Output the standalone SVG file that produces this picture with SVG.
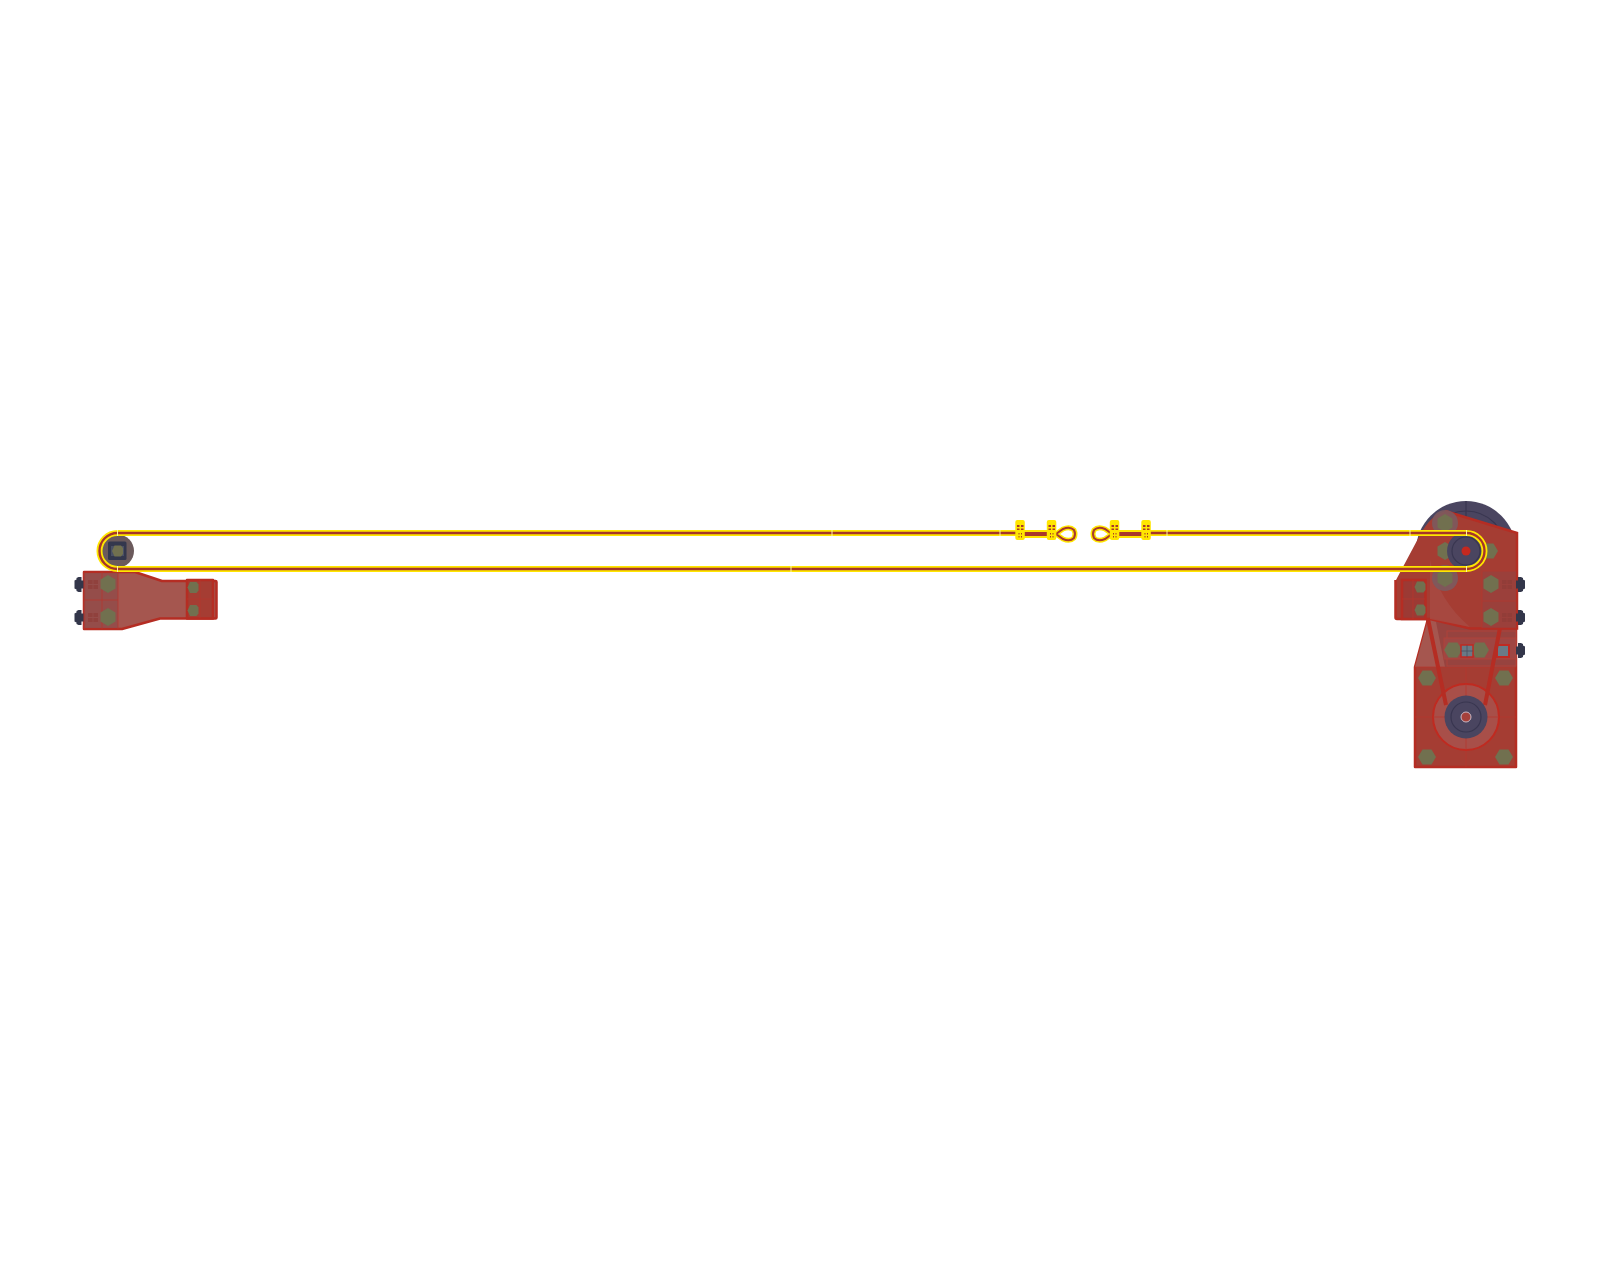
<svg xmlns="http://www.w3.org/2000/svg" width="1600" height="1269" viewBox="0 0 1600 1269">
<style>
.red{fill:#a5564f;stroke:#b52d23;stroke-width:2.5;stroke-linejoin:round}
.redd{fill:#a53d33;stroke:#b52d23;stroke-width:2.500;stroke-linejoin:round}
.ln{fill:none;stroke:#b5372d;stroke-width:1;opacity:.75}
.v{fill:none;stroke:#b52d23;stroke-width:4}
.ol{fill:#71704f}
.dk{fill:#4a4560}
.ring{fill:none;stroke:#393650;stroke-width:1.200}
.bolt{fill:#33364a}
.by{fill:none;stroke:#ffe600;stroke-width:6}
.br{fill:none;stroke:#a5352a;stroke-width:2.400}
.tick{stroke:#fff3a0;stroke-width:1}
.py{fill:#ffe600}
.pr{fill:#a8382b}
.slot{fill:#8f3c38}
</style>
<defs>
<polygon id="hex" points="0,-9 7.500,-4.500 7.500,4.500 0,9 -7.500,4.500 -7.500,-4.500"/>
<polygon id="hexh" points="-9,0 -4.500,-7.500 4.500,-7.500 9,0 4.500,7.500 -4.500,7.500"/>
<polygon id="hexs" points="-5.500,0 -3,-5.500 3.500,-5.500 5.500,-3 5.500,3 3.500,5.500 -3,5.500"/>
<path id="b" d="M-4,-4 L-2,-5 V-6.500 L0,-7.500 H3 V-4 H5 V4 H3 V7.500 H0 L-2,6.500 V5 L-4,4 Z"/>
<g id="post"><rect x="-4.700" y="-13" width="9.500" height="20" rx="2" class="py"/><rect x="-3" y="-8" width="2.500" height="2" class="pr"/><rect x="1" y="-8" width="2.500" height="2" class="pr"/><rect x="-3" y="-4.500" width="2.500" height="1.500" class="pr"/><rect x="1" y="-4.500" width="2.500" height="1.500" class="pr"/><rect x="-1.500" y="0" width="1" height="1.500" class="pr"/><rect x="1" y="0" width="1" height="1.500" class="pr"/><rect x="-1.500" y="3" width="1" height="1.500" class="pr"/><rect x="1" y="3" width="1" height="1.500" class="pr"/></g>
<g id="slots"><rect x="-5" y="-5" width="4.500" height="4" class="slot" opacity=".7"/><rect x="0.500" y="-5" width="4.500" height="4" class="slot" opacity=".7"/><rect x="-5" y="0" width="4.500" height="4" class="slot" opacity=".7"/><rect x="0.500" y="0" width="4.500" height="4" class="slot" opacity=".7"/></g>
</defs>

<g id="idler-pulley">
<circle cx="117.500" cy="551" r="16.500" fill="#6b5a5c"/>
<rect x="108" y="541.500" width="18.500" height="18.500" rx="1.500" fill="#33374d"/>
<rect x="111" y="546" width="13" height="10" fill="#4a5064"/>
<use href="#hexs" x="117.500" y="551" class="ol"/>
</g>

<g id="left-bracket">
<path class="red" d="M84,572 H135 L162,581 H215.500 Q216.500,581 216.500,582 V617.500 Q216.500,618.500 215.500,618.500 H160 L122,629 H84 Z"/>
<rect x="84" y="573" width="34" height="55" fill="#8f4a48" opacity=".7"/>
<path class="ln" d="M84,572 V629 M102,572 V629 M118,572 V629 M84,600 H118"/>
<use href="#slots" x="93" y="585"/>
<use href="#slots" x="93" y="618"/>
<rect class="redd" x="187" y="580" width="26" height="38.500"/>
<path class="ln" d="M187,599 H213 M200,580 V618"/>
<use href="#hex" x="108" y="584" class="ol"/>
<use href="#hex" x="108" y="617" class="ol"/>
<use href="#hexs" x="193" y="587.500" class="ol"/>
<use href="#hexs" x="193" y="610.500" class="ol"/>
<use href="#b" x="78.500" y="584.500" class="bolt"/>
<use href="#b" x="78.500" y="617.500" class="bolt"/>
</g>

<g id="lower-housing">
<path class="redd" d="M1428,619 L1415,667 V767 H1516 V625 Z"/>
<path d="M1428,619 L1415,667 H1516 V625 Z" fill="#a5564f"/>
<path class="ln" d="M1415,667 H1516 M1466,667 V767 M1415,717 H1516"/>
<circle cx="1466" cy="717" r="33" fill="#a84f49" stroke="#c02a20" stroke-width="2"/>
<path class="ln" d="M1466,684 V750 M1433,717 H1499"/>
<polygon points="1436,622 1516,628 1516,667 1445,667" fill="#97433f"/>
<rect x="1447" y="631" width="69" height="35" fill="none" stroke="#b0423a" stroke-width="1"/>
<rect x="1444" y="638" width="72" height="21" fill="#9f4643" stroke="#b0423a" stroke-width="1"/>
<use href="#hexh" x="1453" y="650" class="ol"/>
<use href="#hexh" x="1480" y="650" class="ol"/>
<rect x="1461" y="645" width="12" height="12" fill="#6a7a86" stroke="#c02a22" stroke-width="1.500"/>
<path d="M1467,645 V657 M1461,651 H1473" stroke="#4a5060" stroke-width=".800"/>
<rect x="1497" y="645" width="12" height="12" fill="#6a7a86" stroke="#c02a22" stroke-width="2"/>
<path class="v" d="M1428,619 L1446,705 M1500,628 L1485,705"/>
<use href="#hexh" x="1427" y="678" class="ol"/>
<use href="#hexh" x="1504" y="678" class="ol"/>
<use href="#hexh" x="1427" y="757" class="ol"/>
<use href="#hexh" x="1504" y="757" class="ol"/>
<circle cx="1466" cy="717" r="21.500" class="dk"/>
<circle cx="1466" cy="717" r="15" class="ring"/>
<circle cx="1466" cy="717" r="5" fill="#a5403a" stroke="#c9b8c4"/>
</g>

<g id="upper-housing">
<circle cx="1466" cy="551" r="50" class="dk"/>
<circle cx="1466" cy="551" r="40" class="ring"/>
<path class="ring" d="M1466,501 V525 M1440,551 H1516"/>
<path d="M1445,511 L1517,533 V629 H1500 L1470,628 L1430,619 H1396 V580 L1420,535 Q1430,516 1445,511 Z" fill="#a53d33"/>
<path d="M1445,511 L1517,533 V628.500 H1470 L1430,619 H1397 Q1395.500,619 1395.500,617.500 V580" fill="none" stroke="#b52d23" stroke-width="2.500"/>
<path d="M1430,560 Q1438,600 1470,627 L1430,619 Z" fill="#a84b44" opacity=".8"/>
<rect x="1482" y="571" width="34" height="57" fill="#944441" opacity=".55"/>
<path class="ln" d="M1482,571 V628 M1482,601 H1516 M1482,571 H1516"/>
<use href="#slots" x="1507" y="585"/>
<use href="#slots" x="1507" y="618"/>
<rect x="1402" y="580" width="23.500" height="39" fill="#9c3a34" stroke="#b52d23" stroke-width="2.500"/>
<path class="ln" d="M1402,599 H1425 M1413,580 V619"/>
<circle cx="1445" cy="523" r="13" fill="#7c5a5e" opacity=".9"/>
<circle cx="1445" cy="578" r="13" fill="#7c5a5e" opacity=".9"/>
<use href="#hex" x="1445" y="523" class="ol"/>
<use href="#hex" x="1445" y="551" class="ol"/>
<use href="#hex" x="1445" y="578" class="ol"/>
<use href="#hexh" x="1489" y="551" class="ol"/>
<use href="#hex" x="1491" y="584" class="ol"/>
<use href="#hex" x="1491" y="617" class="ol"/>
<use href="#hexs" x="1420" y="587" class="ol"/>
<use href="#hexs" x="1420" y="610" class="ol"/>
<circle cx="1466" cy="551" r="19" class="dk"/>
<circle cx="1466" cy="551" r="14" class="ring"/>
<circle cx="1466" cy="551" r="4.500" fill="#c4281f"/>
<use href="#b" transform="translate(1521,584.500) scale(-1,1)" class="bolt"/>
<use href="#b" transform="translate(1521,617.500) scale(-1,1)" class="bolt"/>
<use href="#b" transform="translate(1521,650.500) scale(-1,1)" class="bolt"/>
</g>

<g id="connectors">
<path id="belt-y" class="by" d="M1020,533 H117.500 A18,18 0 0 0 117.500,569 H1466.500 A18,18 0 0 0 1466.500,533 H1146"/>
<path id="belt-r" class="br" d="M1020,533 H117.500 A18,18 0 0 0 117.500,569 H1466.500 A18,18 0 0 0 1466.500,533 H1146"/>
<path class="tick" d="M117.500,530 V536 M117.500,566 V572 M1466.500,530 V536 M1466.500,566 V572 M832,530 V536 M791,566 V572 M1000,530 V536 M1167,530 V536 M1410,530 V536"/>
</g>

<g id="fitting-left">
<path d="M1024,534 H1052" stroke="#ffe600" stroke-width="8" fill="none"/>
<path d="M1056,534 L1063,529 Q1070,526 1074,530 Q1076,534 1074,538 Q1070,542 1063,539 Z" stroke="#ffe600" stroke-width="5" fill="#fff" stroke-linejoin="round"/>
<path d="M1024,534 H1052" stroke="#a8382b" stroke-width="4" fill="none"/>
<path d="M1056,534 L1063,529 Q1070,526 1074,530 Q1076,534 1074,538 Q1070,542 1063,539 Z" stroke="#a8382b" stroke-width="2" fill="none"/>
<use href="#post" x="1020" y="533"/>
<use href="#post" x="1051.500" y="533"/>
</g>
<g id="fitting-right">
<path d="M1115,534 H1146" stroke="#ffe600" stroke-width="8" fill="none"/>
<path d="M1112,534 L1105,529 Q1098,526 1094,530 Q1092,534 1094,538 Q1098,542 1105,539 Z" stroke="#ffe600" stroke-width="5" fill="#fff" stroke-linejoin="round"/>
<path d="M1115,534 H1146" stroke="#a8382b" stroke-width="4" fill="none"/>
<path d="M1112,534 L1105,529 Q1098,526 1094,530 Q1092,534 1094,538 Q1098,542 1105,539 Z" stroke="#a8382b" stroke-width="2" fill="none"/>
<use href="#post" x="1114.500" y="533"/>
<use href="#post" x="1146" y="533"/>
</g>
</svg>
